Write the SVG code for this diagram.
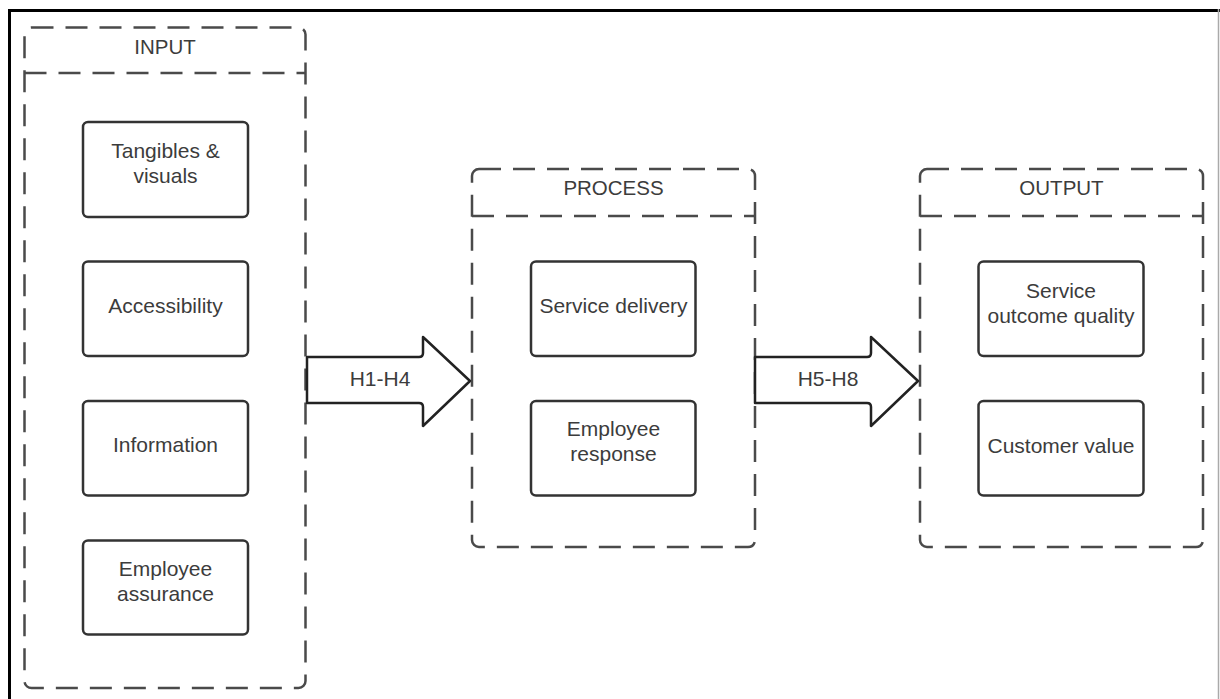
<svg xmlns="http://www.w3.org/2000/svg" width="1220" height="699" viewBox="0 0 1220 699">
<style>
.frame{fill:none;stroke:#000;stroke-width:3}
.cont{fill:none;stroke:#4a4a4a;stroke-width:2.5;stroke-dasharray:22 12}
.box{fill:#fff;stroke:#333;stroke-width:2.5}
.arrow{fill:#fff;stroke:#222;stroke-width:2.5;stroke-linejoin:round}
text{font-family:"Liberation Sans",Arial,sans-serif;font-size:21px;fill:#3c3c3c;text-anchor:middle}
text.hd{font-size:20.5px}
</style>
<rect width="1220" height="699" fill="#fff"/>
<path class="frame" d="M9.5,699 V10.5 H1220"/>
<line x1="1218.5" y1="9" x2="1218.5" y2="699" stroke="#aaa" stroke-width="1.5"/>

<g id="input">
<rect class="cont" x="24.5" y="27.5" width="281" height="660.5" rx="7"/>
<line class="cont" x1="24.5" y1="73" x2="305.5" y2="73"/>
<text class="hd" x="165" y="54">INPUT</text>
</g>
<g id="process">
<rect class="cont" x="472" y="169" width="283" height="378" rx="7"/>
<line class="cont" x1="472" y1="216" x2="755" y2="216"/>
<text class="hd" x="613.5" y="195">PROCESS</text>
</g>
<g id="output">
<rect class="cont" x="920" y="169" width="283" height="378" rx="7"/>
<line class="cont" x1="920" y1="216" x2="1203" y2="216"/>
<text class="hd" x="1061.5" y="195">OUTPUT</text>
</g>

<g id="tangibles">
<rect class="box" x="83" y="122" width="165" height="95" rx="5"/>
<text x="165.5" y="158">Tangibles &amp;</text>
<text x="165.5" y="183">visuals</text>
</g>
<g id="accessibility">
<rect class="box" x="83" y="261.5" width="165" height="94.5" rx="5"/>
<text x="165.5" y="313">Accessibility</text>
</g>
<g id="information">
<rect class="box" x="83" y="401" width="165" height="94.5" rx="5"/>
<text x="165.5" y="452">Information</text>
</g>
<g id="employee-assurance">
<rect class="box" x="83" y="540.5" width="165" height="94" rx="5"/>
<text x="165.5" y="576">Employee</text>
<text x="165.5" y="601">assurance</text>
</g>

<g id="service-delivery">
<rect class="box" x="531" y="261.5" width="164.5" height="94.5" rx="5"/>
<text x="613.5" y="313">Service delivery</text>
</g>
<g id="employee-response">
<rect class="box" x="531" y="401" width="164.5" height="94.5" rx="5"/>
<text x="613.5" y="436">Employee</text>
<text x="613.5" y="461">response</text>
</g>

<g id="service-outcome-quality">
<rect class="box" x="978.5" y="261.5" width="165" height="94.5" rx="5"/>
<text x="1061" y="298">Service</text>
<text x="1061" y="323">outcome quality</text>
</g>
<g id="customer-value">
<rect class="box" x="978.5" y="401" width="165" height="94.5" rx="5"/>
<text x="1061" y="453">Customer value</text>
</g>

<g id="connectors">
<g id="arrow-h1-h4">
<path class="arrow" d="M307,357 H419 Q423,357 423,353 V337 L470,381 L423,426 V407 Q423,403 419,403 H307 Z"/>
<text x="380" y="386">H1-H4</text>
</g>
<g id="arrow-h5-h8">
<path class="arrow" d="M755,357 H867 Q871,357 871,353 V337 L918,381 L871,426 V407 Q871,403 867,403 H755 Z"/>
<text x="828" y="386">H5-H8</text>
</g>
</g>
</svg>
